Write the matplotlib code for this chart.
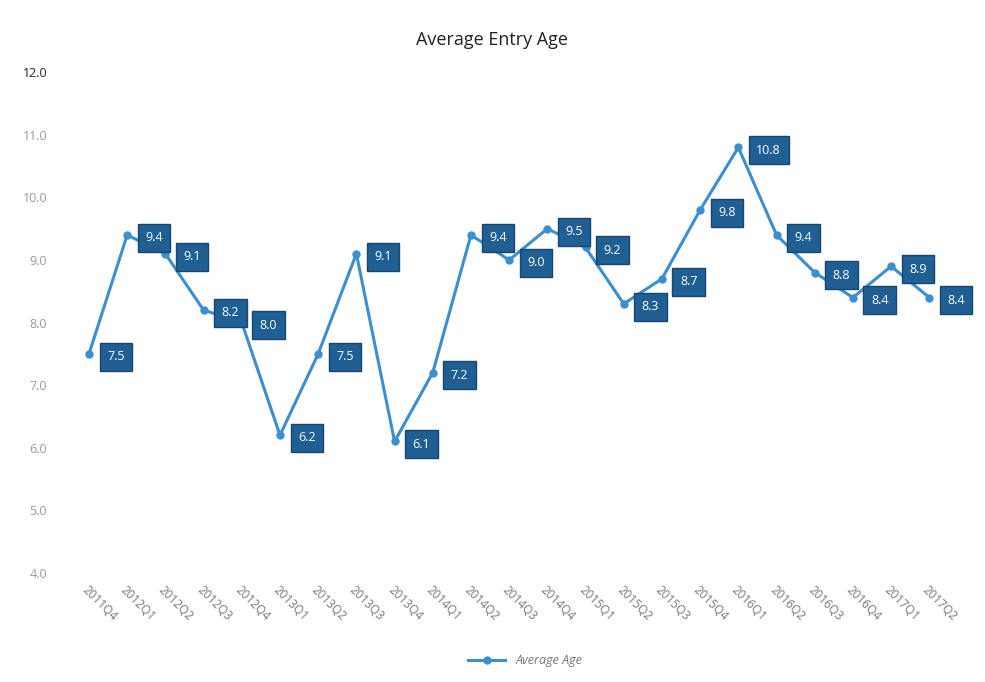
import matplotlib.pyplot as plt
import matplotlib
matplotlib.rcParams['font.family'] = ['Open Sans', 'DejaVu Sans']

quarters = ['2011Q4', '2012Q1', '2012Q2', '2012Q3', '2012Q4', '2013Q1', '2013Q2',
            '2013Q3', '2013Q4', '2014Q1', '2014Q2', '2014Q3', '2014Q4', '2015Q1',
            '2015Q2', '2015Q3', '2015Q4', '2016Q1', '2016Q2', '2016Q3', '2016Q4',
            '2017Q1', '2017Q2']
avg_age = [7.5, 9.4, 9.1, 8.2, 8.0, 6.2, 7.5, 9.1, 6.1, 7.2, 9.4, 9.0,
           9.5, 9.2, 8.3, 8.7, 9.8, 10.8, 9.4, 8.8, 8.4, 8.9, 8.4]
yticks = [4.0, 5.0, 6.0, 7.0, 8.0, 9.0, 10.0, 11.0, 12.0]

line_col = '#3b8fcf'
box_col = '#1f5f94'

fig = plt.figure(figsize=(9.85, 6.82), dpi=100)
ax = fig.add_axes([0.076, 0.16, 0.914, 0.734])

x = list(range(len(quarters)))
ax.plot(x, avg_age, color=line_col, lw=2.2, marker='o', ms=5, label='Average Age')

for i, v in zip(x, avg_age):
    ax.annotate(f'{v:.1f}', (i, v), xytext=(13, -2), textcoords='offset points',
                ha='left', va='center', color='white', fontsize=9,
                bbox=dict(boxstyle='square,pad=0.6', fc=box_col, ec='#17456b', lw=1))

ax.set_ylim(4, 12)
ax.set_xlim(-0.37, 23.2)
ax.set_yticks(yticks)
ax.set_yticklabels([f'{t:.1f}' for t in yticks], fontsize=9, color='#9a9a9a')
ax.get_yticklabels()[-1].set_color('#222222')
ax.set_xticks(x)
ax.set_xticklabels(quarters, rotation=-45, ha='left', va='top', rotation_mode='anchor',
                   fontsize=8.5, color='#777777')
ax.tick_params(axis='x', length=0, pad=8)
ax.tick_params(axis='y', length=0, pad=20)
for s in ax.spines.values():
    s.set_visible(False)

fig.suptitle('Average Entry Age', y=0.955, fontsize=13, color='#222222')
ax.legend(loc='upper center', bbox_to_anchor=(0.5, -0.14), frameon=False,
          handlelength=3, prop={'style': 'italic', 'size': 9}, labelcolor='#777777')

fig.savefig('out.png', dpi=100, facecolor='white')
